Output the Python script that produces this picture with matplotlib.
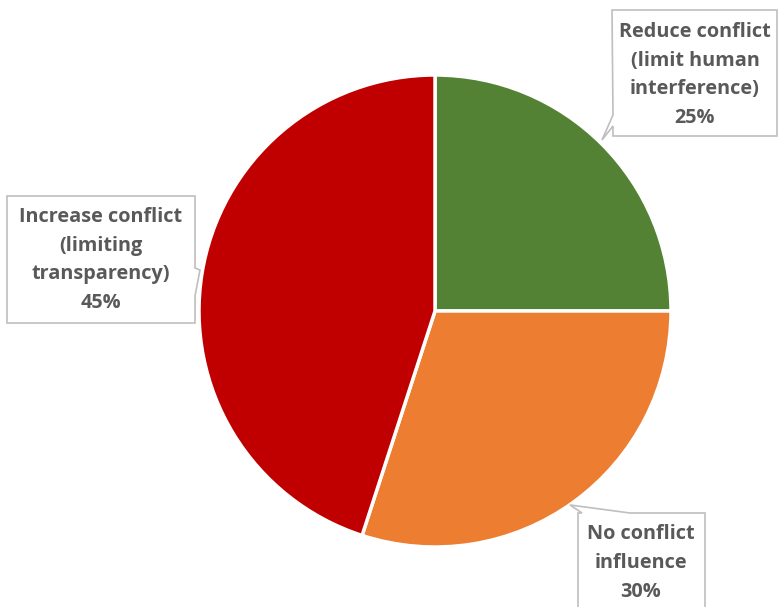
import matplotlib.pyplot as plt
from matplotlib.patches import Polygon

labels = ["Reduce conflict\n(limit human\ninterference)",
          "No conflict\ninfluence",
          "Increase conflict\n(limiting\ntransparency)"]
shares = [25, 30, 45]
colors = ["#548235", "#ED7D31", "#C00000"]

W, H = 778, 607
fig = plt.figure(figsize=(W / 100, H / 100), dpi=100)
ax = fig.add_axes([0, 0, 1, 1])


def py(y):
    # image-style y (top down) -> axes y
    return H - y


ax.pie(shares, colors=colors, startangle=90, counterclock=False,
       center=(435, py(311)), radius=236, frame=True,
       wedgeprops=dict(edgecolor="white", linewidth=2.5))
ax.set_xlim(0, W)
ax.set_ylim(0, H)
ax.set_aspect("equal")
ax.axis("off")

# callout outlines (pixel corners, top-down y)
callouts = [
    [(612, 10), (777, 10), (777, 136), (613, 136), (613, 126), (602, 140), (613, 115)],
    [(7, 196), (195, 196), (195, 268), (200, 270), (195, 296), (195, 323), (7, 323)],
    [(578, 513), (582, 513), (570, 505), (630, 513), (705, 513), (705, 610), (578, 610)],
]
text_pos = [(695, 75), (641, 563), (101, 260)]

for pts, (tx, ty), lab, s in zip(callouts, text_pos, labels, shares):
    ax.add_patch(Polygon([(x, py(y)) for x, y in pts], closed=True,
                         facecolor="white", edgecolor="#BFBFBF", lw=1.2, zorder=3))
    ax.text(tx, py(ty), f"{lab}\n{s}%", ha="center", va="center",
            fontsize=14.3, fontweight="bold", color="#595959",
            family="Open Sans", linespacing=1.58, zorder=4)

fig.savefig("out.png", dpi=100)
